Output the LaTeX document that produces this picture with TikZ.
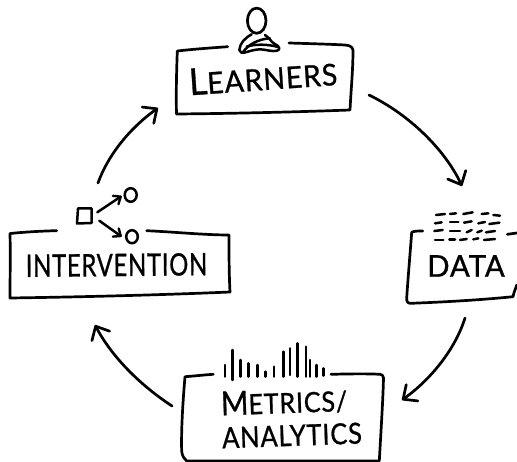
\documentclass[tikz,border=0pt]{standalone}
\usepackage{graphicx}
\usepackage{fontspec}
\setmainfont{Lato}
\newfontfamily\handfont[LetterSpace=3,FakeBold=0.9]{Lato}
\usetikzlibrary{arrows.meta}
\newcommand{\hand}[3]{\scalebox{#2}[1]{\fontsize{#1}{#1}\selectfont\handfont #3}}
\newcommand{\tallcap}[2]{{\fontsize{#1}{#1}\selectfont #2}}
\tikzset{
  ink/.style={draw=black,line width=2.7pt,line cap=round,line join=round},
  thin ink/.style={draw=black,line width=2.5pt,line cap=round,line join=round},
  barb/.style={-{Straight Barb[length=11pt,width=20pt,line width=2.7pt,round]}},
  smallbarb/.style={-{Straight Barb[length=6pt,width=10pt,line width=2.4pt,round]}},
  label/.style={inner sep=0pt,text=black,anchor=center}
}
\begin{document}
\begin{tikzpicture}[x=1pt,y=-1pt]
\useasboundingbox (0,0) rectangle (517,462);
% Learners box
\draw[ink] (227.7,46.7) .. controls (210,48) and (195,49) .. (177.3,51) .. controls (176.5,72) and (176,95) .. (176.5,114) .. controls (235,113.5) and (295,112) .. (350,110) .. controls (351,90) and (353,70) .. (353,50) .. controls (352,46) and (349,45.5) .. (345,45) .. controls (325,44) and (305,43.5) .. (289,43);
% person
\draw[ink] (256.7,20.7) ellipse [x radius=9.3,y radius=12.6];
\draw[thin ink] (251.7,34.3) .. controls (245,38) and (240,43) .. (239.3,50) .. controls (240,53) and (242,53) .. (245,52.5) .. controls (250,51) and (255,49.5) .. (260,49.3) .. controls (266,49.5) and (272,52) .. (277,50.7) .. controls (280,49.5) and (280,47.5) .. (278,46) .. controls (275,44) and (273,43) .. (271.7,41.7) .. controls (270,39) and (268,37) .. (265,35);
\draw[thin ink] (243.3,51.7) .. controls (248,45) and (258,39) .. (270,38.3);
\draw[thin ink] (246.7,46.7) .. controls (254,44) and (268,44) .. (278,47);
\node[label,rotate=4] (learners) at (263,77) {\hand{30}{0.95}{\tallcap{37}{L}EARNERS}};
% Intervention box
\draw[ink] (56.7,230.7) .. controls (42,231) and (25,232) .. (10,233.5) .. controls (10.5,255) and (10,278) .. (10,298) .. controls (80,297) and (160,295) .. (230,292) .. controls (229,273) and (229,254) .. (229,235) .. controls (205,235) and (175,232) .. (146.7,230.7);
\draw[thin ink] (78,208.5) -- (91.5,208.5) -- (91.5,223) -- (77,223.5) -- cycle;
\draw[thin ink] (130.7,195) ellipse [x radius=6,y radius=6.8];
\draw[thin ink] (132,236.7) ellipse [x radius=5.8,y radius=6.5];
\coordinate (sqa) at (97.3,212.3); \coordinate (sqb) at (99.3,220.7);
\coordinate (ca) at (121.7,196); \coordinate (cb) at (121.7,236.7);
\draw[thin ink,smallbarb] (sqa) -- (ca);
\draw[thin ink,smallbarb] (sqb) -- (cb);
\node[label,rotate=0.5] (intervention) at (116.5,265) {\hand{31}{0.77}{INTERVENTION}};
% Data box
\draw[ink] (422.7,231) .. controls (418,231) and (414,231) .. (411.7,232.3) .. controls (410,255) and (408,278) .. (406.7,298) .. controls (406.5,302) and (408,303.5) .. (411,303.3) .. controls (445,302) and (480,300) .. (513,296.7) .. controls (514,292) and (515.5,289) .. (516.7,285);
\draw[ink] (507.3,234.3) -- (517,233);
\foreach \ax/\ay/\bx/\by in {108/45/135/42,150/42/168/40,190/42/218/37,245/42/265/40,280/45/300/47,
 105/70/125/67,150/66/175/66,192/68/215/64,235/70/255/66,268/72/298/68,
 103/93/128/90,150/93/180/93,200/97/215/90,232/97/245/92,258/97/285/93,
 105/120/130/120,148/118/165/118,180/120/200/117,220/118/235/115,252/120/285/117}
 \draw[thin ink] ({400+\ax/3},{200+\ay/3}) -- ({400+\bx/3},{200+\by/3});
\node[label] (data) at (466,266) {\hand{30}{0.98}{DATA}};
% Metrics box
\draw[ink] (213.3,374.3) .. controls (203,375) and (195,376) .. (185,376.7) .. controls (183,400) and (181,430) .. (181.7,451.7) .. controls (182.5,456) and (184,459) .. (186.7,461) -- (379.3,461) .. controls (381,430) and (383,400) .. (383.5,378) .. controls (383.5,375.5) and (382,374.5) .. (380,374.3) .. controls (365,373.5) and (345,374) .. (331,374.3);
\foreach \bx/\bt/\bb in {165/90/125,187/45/135,212/75/125,236/85/125,263/90/125,287/110/125,312/95/125,340/50/125,360/40/120,382/25/125,408/35/125,420/75/125,440/90/125,460/100/122}
 \draw[thin ink] ({170+\bx/3},{335+\bt/3}) -- ({170+\bx/3},{335+\bb/3});
\node[label,rotate=2] (metrics) at (284,402) {\hand{28}{0.9}{\tallcap{33}{M}ETRICS/}};
\node[label,rotate=2] (analytics) at (292,435.5) {\hand{29}{0.88}{ANALYTICS}};
% Cycle arrows
\coordinate (l2d) at (369,95); \coordinate (d2) at (462,186);
\coordinate (d2m) at (465,318); \coordinate (m2) at (402,400);
\coordinate (m2i) at (172,406); \coordinate (i2) at (95,325);
\coordinate (i2l) at (98,183); \coordinate (l2) at (158,108);
\draw[ink,barb] (l2d) .. controls (410,115) and (445,150) .. (d2);
\draw[ink,barb] (d2m) .. controls (455,350) and (430,380) .. (m2);
\draw[ink,barb] (m2i) .. controls (140,385) and (112,357) .. (i2);
\draw[ink,barb] (i2l) .. controls (108,155) and (130,128) .. (l2);
\end{tikzpicture}
\end{document}
